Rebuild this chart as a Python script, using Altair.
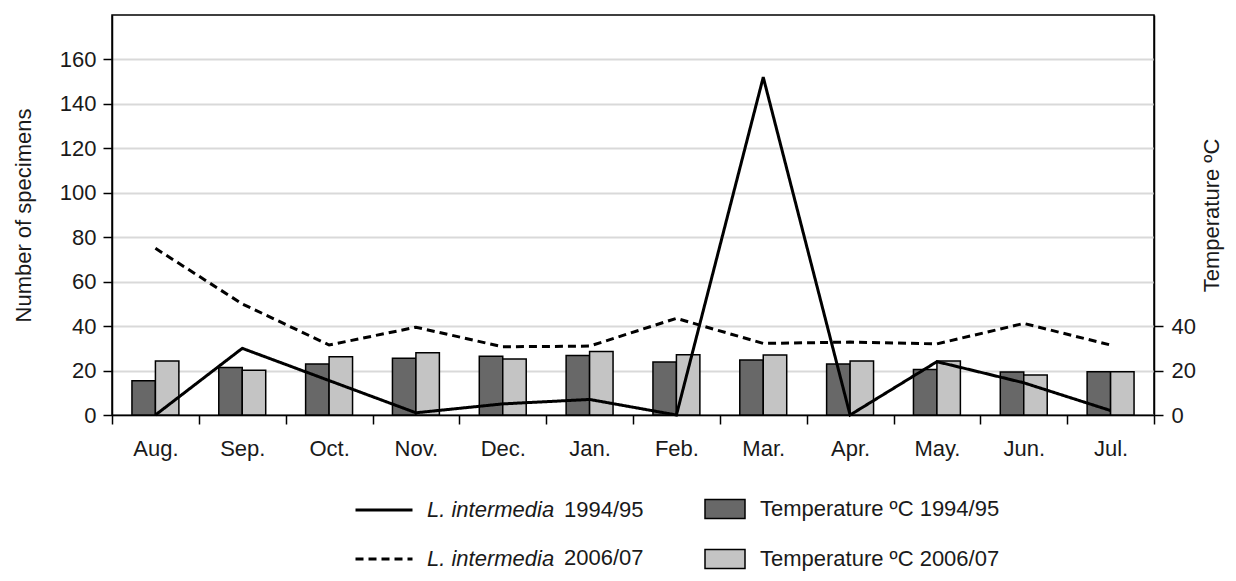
import altair as alt
import pandas as pd

months = ["Aug.", "Sep.", "Oct.", "Nov.", "Dec.", "Jan.", "Feb.", "Mar.", "Apr.", "May.", "Jun.", "Jul."]
temp_9495 = [15.4, 21.4, 22.9, 25.5, 26.4, 26.8, 23.8, 24.7, 22.9, 20.5, 19.3, 19.5]
temp_0607 = [24.3, 20.1, 26.2, 28.0, 25.2, 28.6, 27.1, 27.0, 24.3, 24.3, 18.0, 19.5]
spec_9495 = [0, 30, 15.5, 1, 5, 7, 0, 152, 0, 24, 14.5, 2]
spec_0607 = [75, 50, 31.5, 39.5, 30.7, 31, 43.5, 32.2, 32.8, 32, 41.2, 31.5]
species = "L. intermedia"
periods = ["1994/95", "2006/07"]
line_series = [species + " " + p for p in periods]
bar_series = ["Temperature ºC 1994/95", "Temperature ºC 2006/07"]

lines = pd.DataFrame({
    "month": months * 2,
    "count": spec_9495 + spec_0607,
    "series": [line_series[0]] * 12 + [line_series[1]] * 12,
    "period": [periods[0]] * 12 + [periods[1]] * 12,
})
bars = pd.DataFrame({
    "month": months * 2,
    "temp": temp_9495 + temp_0607,
    "tseries": [bar_series[0]] * 12 + [bar_series[1]] * 12,
})

FONT = "Liberation Sans, Arial, sans-serif"
TXT = "#1a1a1a"
FS = 22

x_enc = alt.X(
    "month:N", sort=months,
    scale=alt.Scale(paddingInner=0, paddingOuter=0),
    axis=alt.Axis(title=None, tickBand="extent", labelAngle=0, labelFontSize=FS,
                  labelColor=TXT, tickSize=9, tickColor="black", tickWidth=1.5,
                  domainColor="black", domainWidth=1.5, labelPadding=14, grid=False),
)

bar_layer = alt.Chart(bars).mark_bar(stroke="black", strokeWidth=1.5).encode(
    x=x_enc,
    xOffset=alt.XOffset("tseries:N", sort=bar_series,
                        scale=alt.Scale(paddingInner=0, paddingOuter=0.85)),
    y=alt.Y("temp:Q", scale=alt.Scale(domain=[0, 180], nice=False),
            axis=alt.Axis(orient="right", values=[0, 20, 40], title="Temperature ºC",
                          titleAngle=270, grid=False, labelFontSize=FS, labelColor=TXT,
                          titleFontSize=FS, titleFontWeight="normal", titleColor=TXT,
                          titlePadding=28, tickSize=9, tickColor="black", tickWidth=1.5,
                          domainColor="black", domainWidth=1.5, labelPadding=8)),
    fill=alt.Fill("tseries:N", sort=bar_series,
                  scale=alt.Scale(domain=bar_series, range=["#686868", "#c4c4c4"]),
                  legend=alt.Legend(orient="none", legendX=592, legendY=473,
                                    title=None, direction="vertical", padding=0,
                                    symbolType="M-1,-0.475L1,-0.475L1,0.475L-1,0.475Z",
                                    symbolSize=1600, symbolStrokeColor="black",
                                    symbolStrokeWidth=1.5, labelFontSize=FS, labelLimit=500,
                                    labelColor=TXT, labelOffset=14, rowPadding=16)),
)

line_layer = alt.Chart(lines).mark_line(color="black", strokeWidth=3).encode(
    x=x_enc,
    y=alt.Y("count:Q", scale=alt.Scale(domain=[0, 180], nice=False),
            axis=alt.Axis(orient="left", values=list(range(0, 161, 20)),
                          title="Number of specimens", grid=True, gridColor="#d9d9d9",
                          gridWidth=2, labelFontSize=FS, labelColor=TXT,
                          titleFontSize=FS, titleFontWeight="normal", titleColor=TXT,
                          titlePadding=24, tickSize=9, tickColor="black", tickWidth=1.5,
                          domainColor="black", domainWidth=1.5, labelPadding=7)),
    strokeDash=alt.StrokeDash("series:N", sort=line_series,
                              scale=alt.Scale(domain=line_series, range=[[1, 0], [8, 5]]),
                              legend=alt.Legend(orient="none", legendX=242, legendY=465,
                                                title=None, direction="vertical", padding=0,
                                                symbolType="stroke", symbolSize=3249,
                                                symbolStrokeColor="black", symbolStrokeWidth=3,
                                                labelExpr="'" + species + "'",
                                                labelFontStyle="italic", labelFontSize=FS,
                                                labelColor=TXT, labelOffset=13, rowPadding=8)),
    opacity=alt.Opacity("period:N", sort=periods,
                        scale=alt.Scale(domain=periods, range=[1, 1]),
                        legend=alt.Legend(orient="none", legendX=430, legendY=484,
                                          title=None, direction="vertical", padding=0,
                                          symbolSize=0, symbolOpacity=0, symbolStrokeWidth=0,
                                          labelFontSize=FS, labelColor=TXT, labelOffset=0,
                                          rowPadding=26)),
)

chart = alt.layer(bar_layer, line_layer).resolve_scale(
    y="independent"
).properties(
    width=1042, height=400,
    autosize=alt.AutoSizeParams(type="none"),
    padding={"left": 104, "top": 7, "right": 74, "bottom": 158},
).configure(
    font=FONT,
).configure_view(
    stroke="black", strokeWidth=1.5,
)

chart.save("out.html", embed_options={"renderer": "svg", "actions": False})
